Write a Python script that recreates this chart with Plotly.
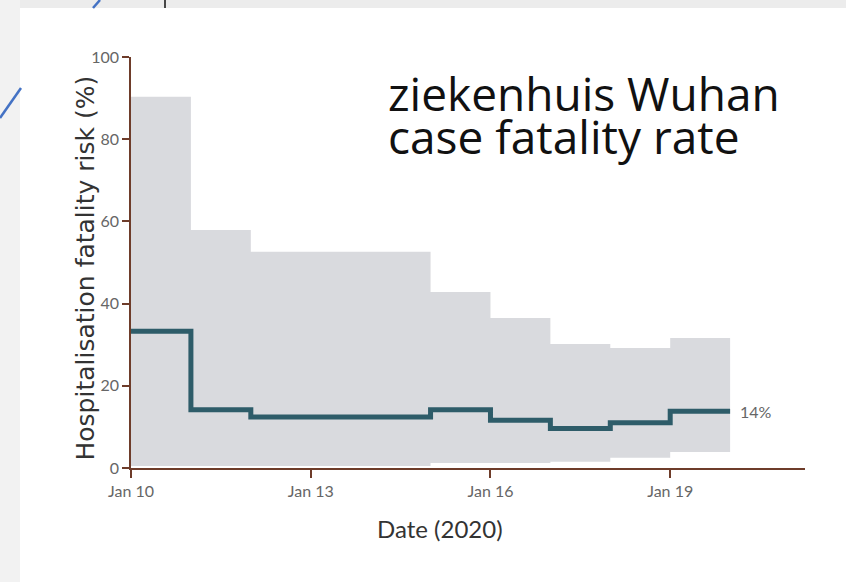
import plotly.graph_objects as go

# ---- data ----
dates = ["2020-01-10", "2020-01-11", "2020-01-12", "2020-01-13", "2020-01-14",
         "2020-01-15", "2020-01-16", "2020-01-17", "2020-01-18", "2020-01-19",
         "2020-01-20"]
cfr = [33.3, 14.2, 12.4, 12.4, 12.4, 14.2, 11.6, 9.6, 11.0, 13.8]
upper = [90.3, 57.9, 52.6, 52.6, 52.6, 42.8, 36.5, 30.2, 29.2, 31.6]
lower = [0.5, 0.5, 0.5, 0.5, 0.5, 1.2, 1.2, 1.5, 2.5, 3.9]
tick_vals = ["2020-01-10", "2020-01-13", "2020-01-16", "2020-01-19"]
tick_text = ["Jan 10", "Jan 13", "Jan 16", "Jan 19"]
y_ticks = [0, 20, 40, 60, 80, 100]
final_label = "14%"
title_lines = ["ziekenhuis Wuhan", "case fatality rate"]
x_title = "Date (2020)"
y_title = "Hospitalisation fatality risk (%)"

W, H = 846, 582
L, R, T, B = 131, 41, 57, 114
pw, ph = W - L - R, H - T - B

def px(x):
    return (x - L) / pw

def py(y):
    return (H - B - y) / ph

# step series: repeat last value for closing step
cfr_s = cfr + [cfr[-1]]
up_s = upper + [upper[-1]]
lo_s = lower + [lower[-1]]

band = "#d9dade"
line_col = "#2e5c69"
axis_col = "#6e3c2a"

fig = go.Figure()
fig.add_trace(go.Scatter(x=dates, y=lo_s, mode="lines", line=dict(width=0, shape="hv", color=band),
                         hoverinfo="skip", showlegend=False))
fig.add_trace(go.Scatter(x=dates, y=up_s, mode="lines", line=dict(width=0, shape="hv", color=band),
                         fill="tonexty", fillcolor=band, hoverinfo="skip", showlegend=False))
fig.add_trace(go.Scatter(x=dates, y=cfr_s, mode="lines", line=dict(width=5, shape="hv", color=line_col),
                         showlegend=False))

tick_font = dict(family="Lato, sans-serif", size=16, color="#666666")

fig.update_xaxes(range=["2020-01-10", "2020-01-21 06:00"], tickvals=tick_vals, ticktext=tick_text,
                 showgrid=False, zeroline=False, showline=True, linecolor=axis_col, linewidth=1.5,
                 ticks="outside", ticklen=8, tickcolor=axis_col, tickwidth=1.5, tickfont=tick_font)
fig.update_yaxes(range=[0, 100], tickvals=y_ticks, showgrid=False, zeroline=False,
                 showline=True, linecolor=axis_col, linewidth=1.5,
                 ticks="outside", ticklen=7, tickcolor=axis_col, tickwidth=1.5, tickfont=tick_font)

fig.add_annotation(x=dates[-1], y=cfr[-1], text=final_label, showarrow=False, xanchor="left",
                   xshift=8, font=dict(family="Lato, sans-serif", size=16, color="#666666"))

# axis titles
fig.add_annotation(xref="paper", yref="paper", x=px(440), y=py(545), text=x_title, showarrow=False,
                   font=dict(family="Liberation Sans Narrow, Lato, sans-serif", size=24, color="#333333"))
fig.add_annotation(xref="paper", yref="paper", x=px(68), y=py(268), text=y_title, showarrow=False,
                   textangle=-90,
                   font=dict(family="DejaVu Sans, sans-serif", size=25, color="#333333"))

# big caption
for i, line in enumerate(title_lines):
    fig.add_annotation(xref="paper", yref="paper", x=px(386), y=py(60 + 43 * i), xanchor="left",
                       yanchor="top", align="left", showarrow=False, text=line,
                       font=dict(family="Open Sans, sans-serif", size=46, color="#111111"))

# slide decorations
shapes = [
    dict(type="rect", xref="paper", yref="paper", x0=px(0), x1=px(W), y0=py(0), y1=py(8),
         fillcolor="#ececec", line=dict(width=0), layer="below"),
    dict(type="rect", xref="paper", yref="paper", x0=px(0), x1=px(20), y0=py(0), y1=py(H),
         fillcolor="#f2f2f2", line=dict(width=0), layer="below"),
    dict(type="line", xref="paper", yref="paper", x0=px(0), y0=py(118), x1=px(21), y1=py(88),
         line=dict(color="#4472c4", width=2.5), layer="below"),
    dict(type="line", xref="paper", yref="paper", x0=px(93), y0=py(8), x1=px(100), y1=py(0),
         line=dict(color="#4472c4", width=2.5), layer="below"),
    dict(type="line", xref="paper", yref="paper", x0=px(165), y0=py(0), x1=px(165), y1=py(8),
         line=dict(color="#111111", width=1.5), layer="below"),
]
fig.update_layout(width=W, height=H, margin=dict(l=L, r=R, t=T, b=B),
                  paper_bgcolor="white", plot_bgcolor="rgba(0,0,0,0)", shapes=shapes)

fig.write_html("out.html", config={"displayModeBar": False},
               post_script="document.body.style.margin='0';")
